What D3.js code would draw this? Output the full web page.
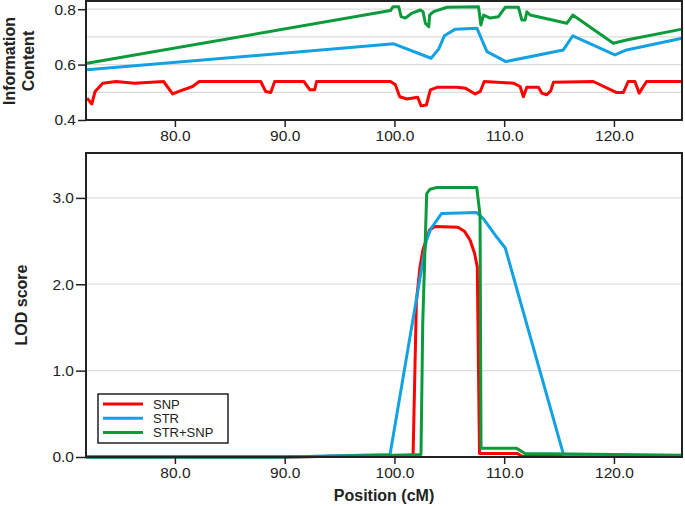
<!DOCTYPE html>
<html>
<head>
<meta charset="utf-8">
<script src="https://cdn.jsdelivr.net/npm/d3@7"></script>
<style>
  body { margin: 0; background: #fff; }
  text { font-family: "Liberation Sans", Arial, sans-serif; fill: #222; }
</style>
</head>
<body>
<svg id="chart"></svg>
<script>
// information content (top panel)
const icSnpPos = [72.0, 72.43, 72.73, 73.43, 74.64, 76.3, 78.97, 79.79, 80.55, 81.61, 82.21, 87.82, 88.27, 88.73, 89.09, 91.75, 92.3, 92.73, 92.91, 99.64, 100.09, 100.48, 101.15, 102.12, 102.43, 102.91, 103.27, 103.88, 105.7, 106.45, 107.36, 107.82, 108.18, 110.85, 111.45, 111.75, 112.06, 113.12, 113.43, 113.88, 114.25, 114.48, 118.12, 120.25, 120.85, 121.3, 121.91, 122.3, 122.97, 126.2];
const icSnp = [0.479, 0.458, 0.503, 0.533, 0.539, 0.533, 0.539, 0.494, 0.506, 0.521, 0.539, 0.539, 0.503, 0.499, 0.539, 0.539, 0.509, 0.509, 0.539, 0.539, 0.527, 0.484, 0.476, 0.482, 0.451, 0.454, 0.509, 0.518, 0.518, 0.515, 0.494, 0.503, 0.539, 0.533, 0.521, 0.484, 0.518, 0.518, 0.497, 0.491, 0.506, 0.536, 0.539, 0.499, 0.499, 0.539, 0.539, 0.497, 0.539, 0.539];

const icStrPos = [72.0, 99.94, 103.34, 104.03, 104.55, 105.55, 107.52, 108.43, 110.15, 115.39, 116.25, 120.09, 121.15, 126.2];
const icStr = [0.581, 0.675, 0.623, 0.656, 0.704, 0.728, 0.731, 0.647, 0.611, 0.653, 0.704, 0.635, 0.653, 0.695];

const icBothPos = [72.0, 99.64, 99.88, 100.39, 100.61, 101.0, 101.61, 102.36, 102.61, 102.82, 103.13, 103.21, 103.57, 104.79, 107.66, 107.88, 108.12, 108.73, 109.48, 110.09, 111.3, 111.61, 111.91, 112.06, 112.36, 115.7, 116.25, 119.94, 121.15, 126.2];
const icBoth = [0.605, 0.795, 0.809, 0.809, 0.773, 0.768, 0.786, 0.797, 0.791, 0.749, 0.737, 0.779, 0.791, 0.807, 0.809, 0.743, 0.779, 0.768, 0.773, 0.807, 0.807, 0.761, 0.761, 0.791, 0.779, 0.749, 0.779, 0.677, 0.689, 0.728];

// LOD score (bottom panel)
const lodSnpPos = [71.9, 90.0, 101.7, 102.0, 102.33, 102.6, 103.2, 103.7, 105.8, 106.4, 106.9, 107.3, 107.55, 107.75, 111.2, 111.6, 126.2];
const lodSnp = [0, 0, 0.02, 1.8, 2.2, 2.4, 2.63, 2.67, 2.66, 2.61, 2.51, 2.36, 2.2, 0.04, 0.04, 0.01, 0.01];

const lodStrPos = [71.9, 90.0, 99.6, 102.9, 103.3, 104.3, 107.5, 108.1, 109.3, 110.1, 115.4, 126.2];
const lodStr = [0, 0, 0.03, 2.5, 2.64, 2.82, 2.83, 2.76, 2.55, 2.42, 0.03, 0.01];

const lodBothPos = [71.9, 90.0, 100.0, 102.42, 102.58, 102.94, 103.24, 103.86, 107.5, 107.8, 107.89, 111.14, 111.9, 126.2];
const lodBoth = [0, 0, 0.02, 0.03, 1.55, 3.05, 3.1, 3.12, 3.12, 2.8, 0.10, 0.10, 0.04, 0.02];

const xTicks = [80, 90, 100, 110, 120];
const icTicks = [0.4, 0.6, 0.8];
const icGrid = [0.5, 0.6, 0.7, 0.8];
const lodTicks = [0, 1, 2, 3];
const legendLabels = ["SNP", "STR", "STR+SNP"];
const colors = ["#ff0000", "#12a2e4", "#0b9a3c"];

const W = 685, H = 506;
const left = 86, right = 682;

const svg = d3.select("#chart").attr("width", W).attr("height", H);

const x = d3.scaleLinear().domain([71.9, 126.2]).range([left, right]);
const yIc = d3.scaleLinear().domain([0.4, 0.8296]).range([120, 1]);
const yLod = d3.scaleLinear().domain([0, 3.52]).range([457, 153]);

const fmt = d3.format(".1f");

function panel(y, grid, ticks, tickLen, series) {
  const [y0, y1] = y.range();
  const g = svg.append("g");

  g.selectAll(".grid")
    .data(grid)
    .join("line")
    .attr("x1", left)
    .attr("x2", right)
    .attr("y1", (d) => y(d))
    .attr("y2", (d) => y(d))
    .attr("stroke", "#dcdcdc")
    .attr("stroke-width", 1.2);

  const line = d3
    .line()
    .x((d) => x(d[0]))
    .y((d) => y(d[1]));

  g.selectAll(".series")
    .data(series)
    .join("path")
    .attr("fill", "none")
    .attr("stroke", (d, i) => colors[i])
    .attr("stroke-width", 3)
    .attr("stroke-linejoin", "round")
    .attr("d", (d) => line(d));

  g.append("rect")
    .attr("x", left)
    .attr("y", y1)
    .attr("width", right - left)
    .attr("height", y0 - y1)
    .attr("fill", "none")
    .attr("stroke", "#222")
    .attr("stroke-width", 2);

  const xa = g
    .append("g")
    .attr("transform", `translate(0,${y0})`)
    .call(d3.axisBottom(x).tickValues(xTicks).tickFormat(fmt).tickSize(7).tickPadding(3));
  const ya = g
    .append("g")
    .attr("transform", `translate(${left},0)`)
    .call(d3.axisLeft(y).tickValues(ticks).tickFormat(fmt).tickSize(tickLen).tickPadding(2));

  [xa, ya].forEach((a) => {
    a.select(".domain").remove();
    a.selectAll(".tick line").attr("stroke", "#222").attr("stroke-width", 1.5);
    a.selectAll(".tick text")
      .attr("fill", "#222")
      .style("font-size", "15.5px")
      .style("font-family", '"Liberation Sans", Arial, sans-serif');
  });
  return g;
}

const zip = (p, v) => p.map((d, i) => [d, v[i]]);

panel(yIc, icGrid, icTicks, 8, [
  zip(icSnpPos, icSnp),
  zip(icStrPos, icStr),
  zip(icBothPos, icBoth),
]);

panel(yLod, [1, 2, 3], lodTicks, 10, [
  zip(lodSnpPos, lodSnp),
  zip(lodStrPos, lodStr),
  zip(lodBothPos, lodBoth),
]);

// axis titles
const ic = svg
  .append("text")
  .attr("transform", "translate(15,61) rotate(-90)")
  .attr("text-anchor", "middle")
  .style("font-size", "16px")
  .style("font-weight", "bold");
ic.append("tspan").attr("x", 0).attr("y", 0).text("Information");
ic.append("tspan").attr("x", 0).attr("y", 19).text("Content");

svg
  .append("text")
  .attr("transform", "translate(27,305) rotate(-90)")
  .attr("text-anchor", "middle")
  .style("font-size", "16px")
  .style("font-weight", "bold")
  .text("LOD score");

svg
  .append("text")
  .attr("x", (left + right) / 2)
  .attr("y", 501)
  .attr("text-anchor", "middle")
  .style("font-size", "16px")
  .style("font-weight", "bold")
  .text("Position (cM)");

// legend
const lg = svg.append("g").attr("transform", "translate(98,394)");
lg.append("rect")
  .attr("width", 130)
  .attr("height", 49)
  .attr("fill", "#fff")
  .attr("stroke", "#222")
  .attr("stroke-width", 1.5);
const items = lg
  .selectAll(".item")
  .data(legendLabels)
  .join("g")
  .attr("transform", (d, i) => `translate(0,${10 + i * 14.3})`);
items
  .append("line")
  .attr("x1", 5)
  .attr("x2", 45)
  .attr("stroke", (d, i) => colors[i])
  .attr("stroke-width", 3);
items
  .append("text")
  .attr("x", 55)
  .attr("y", 4.5)
  .style("font-size", "13px")
  .text((d) => d);
</script>
</body>
</html>
